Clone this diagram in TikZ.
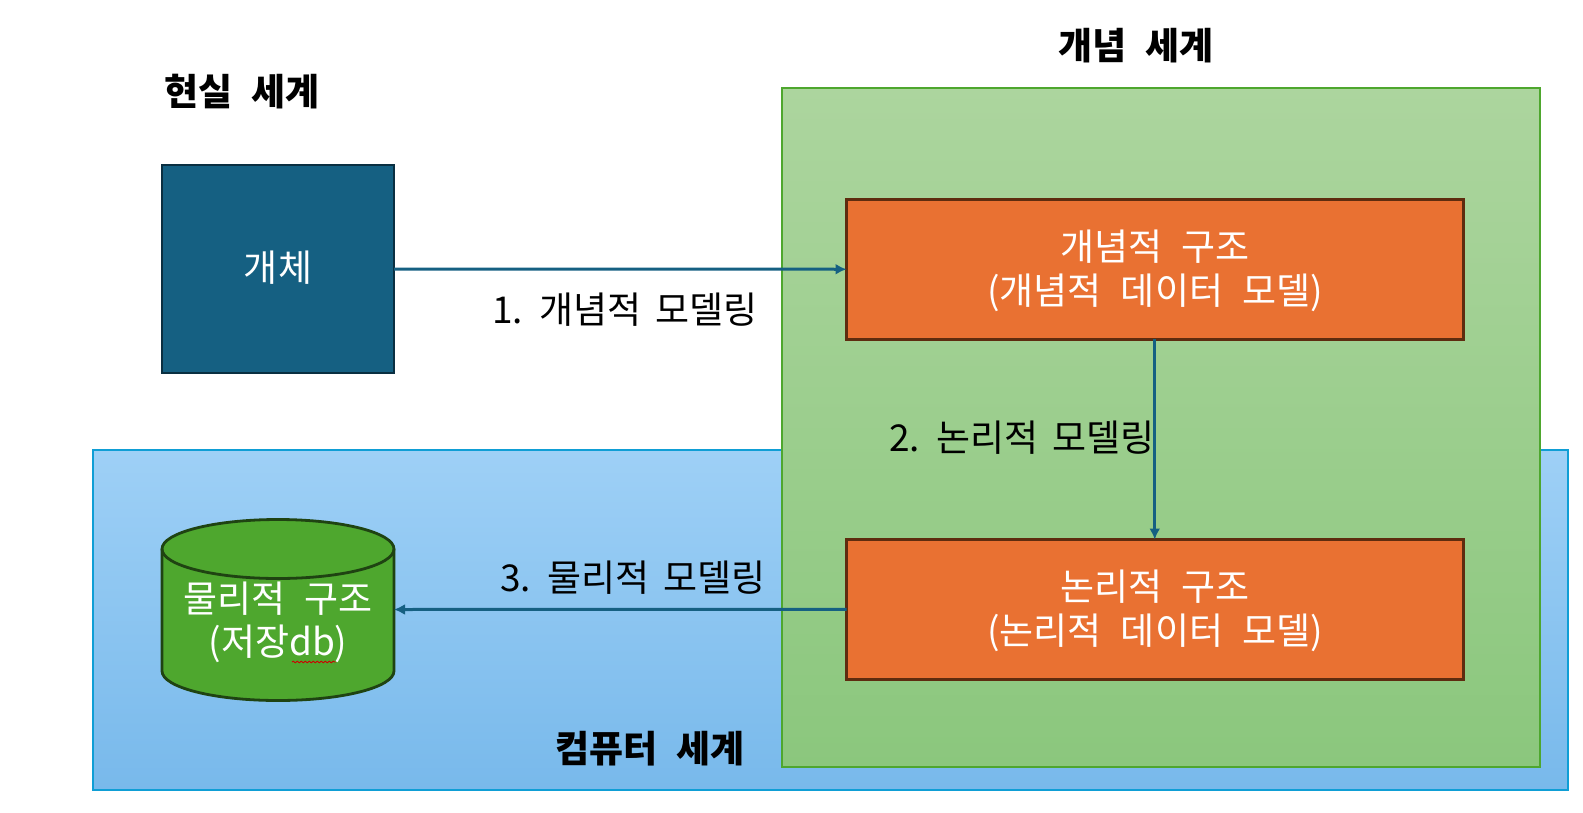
\documentclass[tikz,border=0pt]{standalone}
\usepackage{fontspec}
\setmainfont[WordSpace=2.3]{Noto Sans CJK KR}
\newfontfamily\labfont[WordSpace=1.7]{Noto Sans CJK KR}
\usetikzlibrary{arrows.meta,decorations.pathmorphing}
\definecolor{arrowc}{HTML}{156082}
\definecolor{bluebd}{HTML}{0F9ED5}
\definecolor{greenbd}{HTML}{4EA72E}
\definecolor{orangef}{HTML}{E97132}
\definecolor{orangebd}{HTML}{5E2C0F}
\definecolor{entbd}{HTML}{0A2F41}
\definecolor{cylbd}{HTML}{1F4312}
\tikzset{
  x=1pt,y=-1pt,
  lay/.style={rectangle,inner sep=0pt,outer sep=0pt},
  region/.style={lay,line width=1.8pt,anchor=north west},
  orangebox/.style={lay,draw=orangebd,fill=orangef,line width=3pt,anchor=north west,minimum width=616.5pt,minimum height=139.5pt},
  boxtext/.style={lay,text=white,font=\fontsize{37}{44.5}\selectfont,align=center},
  title/.style={lay,font=\fontsize{37}{44}\selectfont\bfseries,text=black},
  lab/.style={lay,font=\labfont\fontsize{37}{44}\selectfont,text=black},
  flow/.style={draw=arrowc,line width=3pt,-{Latex[length=11pt,width=11pt]}}
}
\begin{document}
\begin{tikzpicture}
\useasboundingbox (0,0) rectangle (1583,812);
\node[region,draw=bluebd,minimum width=1475pt,minimum height=340pt,top color={rgb,255:red,158;green,208;blue,246},bottom color={rgb,255:red,120;green,185;blue,235}] (computer) at (93,450) {};
\node[region,draw=greenbd,minimum width=758pt,minimum height=679pt,top color={rgb,255:red,172;green,213;blue,158},bottom color={rgb,255:red,139;green,199;blue,125}] (concept) at (782,88) {};
\node[lay,draw=entbd,fill=arrowc,line width=2.6pt,anchor=north west,minimum width=232pt,minimum height=208pt] (entity) at (162,165) {};
\node[boxtext] (entitytext) at (278,268) {개체};
\node[orangebox] (conc) at (846.5,199.5) {};
\node[boxtext] (conctext) at (1155,271) {개념적 구조\\(개념적 데이터 모델)};
\node[orangebox] (logi) at (846.5,539.5) {};
\node[boxtext] (logitext) at (1155,611) {논리적 구조\\(논리적 데이터 모델)};
\draw[draw=cylbd,fill=greenbd,line width=2.8pt] (162,549) arc[start angle=180,end angle=0,x radius=116,y radius=-29.5] -- (394,671) arc[start angle=0,end angle=-180,x radius=116,y radius=-29.5] -- cycle;
\draw[draw=cylbd,line width=2.8pt] (162,549) arc[start angle=180,end angle=360,x radius=116,y radius=-29.5];
\node[lay,minimum width=232pt,minimum height=181pt,anchor=north west] (db) at (162,519) {};
\node[boxtext,font=\fontsize{37}{43}\selectfont] (dbtext) at (278,622) {물리적 구조\\(저장db)};
\draw[red!80!black,line width=0.9pt,decorate,decoration={snake,amplitude=0.8pt,segment length=4pt}] (292,662) -- (336,662);
\node[title] (t1) at (242,92) {현실 세계};
\node[title] (t2) at (1136,46) {개념 세계};
\node[title] (t3) at (650,749) {컴퓨터 세계};
\node[lab] (l1) at (625,310) {1. 개념적 모델링};
\node[lab] (l2) at (1022,438) {2. 논리적 모델링};
\node[lab] (l3) at (633,578) {3. 물리적 모델링};
\draw[flow] (entity.east) -- (conc.west);
\draw[flow] (conc.south) -- (logi.north);
\draw[flow] (logi.west) -- (db.east);
\end{tikzpicture}
\end{document}
